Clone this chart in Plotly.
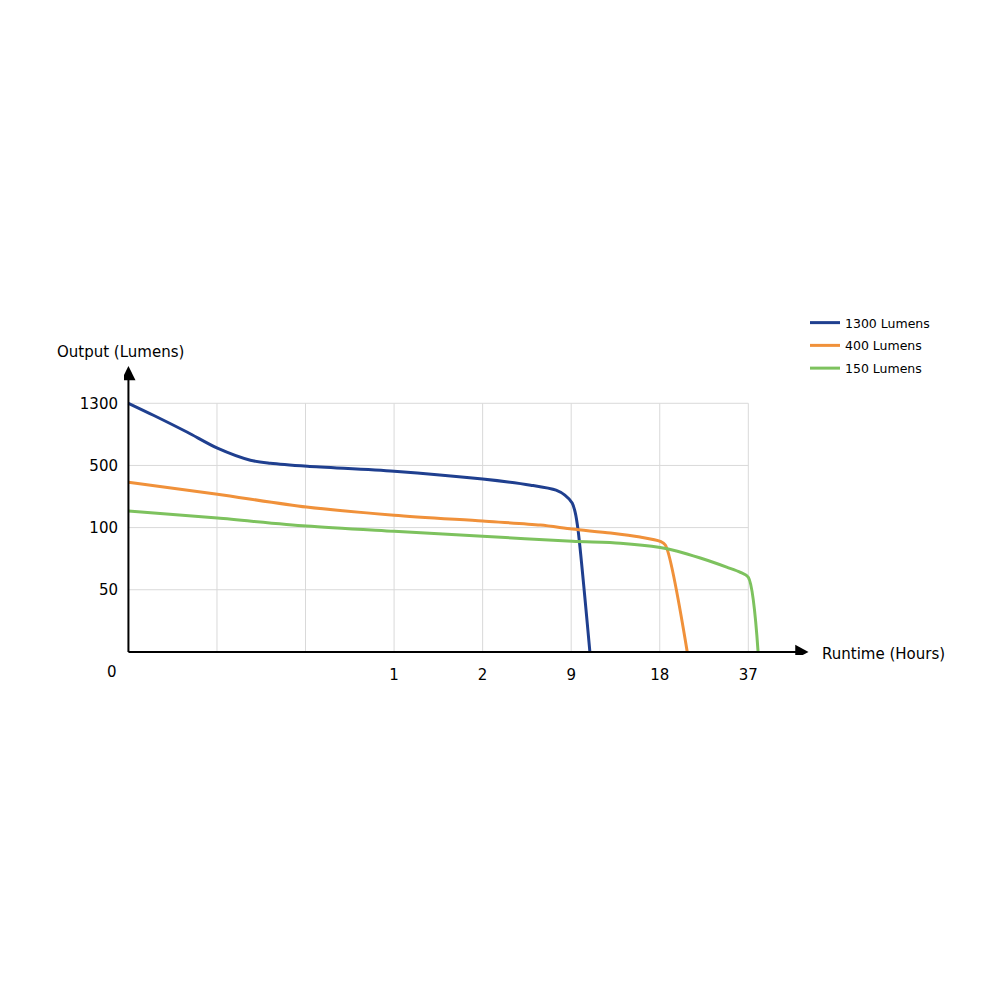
import numpy as np
import plotly.graph_objects as go

# ---------------- data (runtime in hours, output in lumens) ----------------
series_names = ["1300 Lumens", "400 Lumens", "150 Lumens"]

hours_1300 = [0, 0.094, 0.222, 0.335, 0.459, 0.534, 0.674, 1.0, 2.0, 5.8, 7.8, 8.5, 9.1, 9.4, 9.7, 10.9]
lumens_1300 = [1300, 1146, 927, 722, 567, 529, 495, 463, 412, 373, 341, 309, 258, 200, 98, 0]

hours_400 = [0, 0.335, 0.67, 1.0, 2.0, 6.56, 9.1, 13.0, 16.0, 18.1, 19.2, 23.9]
lumens_400 = [392, 315, 232, 180, 142, 116, 98.8, 95.6, 92.4, 89, 86, 0]

hours_150 = [0, 0.335, 0.67, 1.0, 2.0, 9.1, 14.0, 18.1, 21.8, 26.7, 32.5, 35.3, 37.0, 39.1]
lumens_150 = [206, 161, 110, 97, 93, 89, 87.5, 84, 81, 75.5, 68, 64, 60, 0]

# axis tick values (the chart uses an evenly spaced, non-linear scale)
x_tick_labels = ["1", "2", "9", "18", "37"]
x_tick_hours = [0, 1 / 3, 2 / 3, 1, 2, 9, 18, 37, 56]
y_tick_labels = ["50", "100", "500", "1300"]
y_tick_lumens = [0, 50, 100, 500, 1300]

colors = ["#1F3F8F", "#F0913A", "#7DC25E"]

# ---------------- scales ----------------
def xs(h):
    return np.interp(h, x_tick_hours, np.arange(len(x_tick_hours)))

def ys(v):
    return np.interp(v, y_tick_lumens, np.arange(len(y_tick_lumens)))

UX, UY = 88.57, 62.2
X0PIX, Y0PIX = 128, 652
xr = [-0.05, 7.9]
yr = [-0.05, 4.6]
ml = X0PIX + xr[0] * UX
mr = 1000 - (X0PIX + xr[1] * UX)
mt = Y0PIX - yr[1] * UY
mb = 1000 - (Y0PIX - yr[0] * UY)

def px(xd):  # data x -> paper fraction
    return (xd - xr[0]) / (xr[1] - xr[0])

def py(yd):  # data y -> paper fraction
    return (yd - yr[0]) / (yr[1] - yr[0])

FONT = "DejaVu Sans"

fig = go.Figure()
all_series = [(hours_1300, lumens_1300), (hours_400, lumens_400), (hours_150, lumens_150)]
for i, (name, (hx, ly)) in enumerate(zip(series_names, all_series)):
    fig.add_trace(go.Scatter(
        x=xs(hx), y=ys(ly), mode="lines", name=name,
        line=dict(color=colors[i], width=3, shape="spline", smoothing=0.8),
        legendgroup=f"g{i}", cliponaxis=False,
    ))

shapes = []
grid_col = "#D9D9D9"
nx = len(x_tick_labels) + 2  # grid columns
for k in range(1, nx + 1):
    shapes.append(dict(type="line", xref="x", yref="y", x0=k, x1=k, y0=0, y1=len(y_tick_labels),
                       line=dict(color=grid_col, width=1), layer="below"))
for k in range(1, len(y_tick_labels) + 1):
    shapes.append(dict(type="line", xref="x", yref="y", x0=0, x1=nx, y0=k, y1=k,
                       line=dict(color=grid_col, width=1), layer="below"))
# axes with arrows
shapes.append(dict(type="line", xref="x", yref="y", x0=0, x1=7.55, y0=0, y1=0,
                   line=dict(color="black", width=2)))
shapes.append(dict(type="line", xref="x", yref="y", x0=0, x1=0, y0=0, y1=4.4,
                   line=dict(color="black", width=2)))
shapes.append(dict(type="path", xref="x", yref="y",
                   path="M 7.53 -0.115 L 7.68 0 L 7.53 0.115 Z",
                   fillcolor="black", line=dict(color="black", width=0)))
shapes.append(dict(type="path", xref="x", yref="y",
                   path="M -0.08 4.37 L 0 4.6 L 0.08 4.37 Z",
                   fillcolor="black", line=dict(color="black", width=0)))

annotations = [
    dict(text="0", x=px(-0.18), y=py(-0.32), xref="paper", yref="paper", showarrow=False,
         xanchor="center", yanchor="middle",
         font=dict(family=FONT, size=15, color="black")),
    dict(text="Output (Lumens)", x=px(-0.09), y=py(4.83), xref="paper", yref="paper", showarrow=False,
         xanchor="center", yanchor="middle",
         font=dict(family=FONT, size=15, color="black")),
    dict(text="Runtime (Hours)", x=px(7.81), y=py(-0.03), xref="paper", yref="paper", showarrow=False,
         xanchor="left", yanchor="middle",
         font=dict(family=FONT, size=15, color="black")),
]

fig.update_layout(
    width=1000, height=1000,
    margin=dict(l=ml, r=mr, t=mt, b=mb, autoexpand=False),
    paper_bgcolor="white", plot_bgcolor="white",
    font=dict(family=FONT, size=15, color="black"),
    shapes=shapes, annotations=annotations,
    showlegend=True,
    legend=dict(xref="container", yref="container", x=0.805, y=0.692, xanchor="left", yanchor="top",
                font=dict(family=FONT, size=12.5, color="black"),
                traceorder="grouped", tracegroupgap=3.5, bgcolor="rgba(0,0,0,0)"),
    xaxis=dict(range=xr, showgrid=False, zeroline=False, showline=False,
               tickmode="array", tickvals=list(range(3, 3 + len(x_tick_labels))), ticktext=x_tick_labels,
               ticks="outside", ticklen=6, tickcolor="rgba(0,0,0,0)",
               tickfont=dict(family=FONT, size=15, color="black"), fixedrange=True),
    yaxis=dict(range=yr, showgrid=False, zeroline=False, showline=False,
               tickmode="array", tickvals=list(range(1, 1 + len(y_tick_labels))), ticktext=y_tick_labels,
               ticks="outside", ticklen=2, tickcolor="rgba(0,0,0,0)",
               tickfont=dict(family=FONT, size=15, color="black"), fixedrange=True),
)

fig.write_html("out.html")
